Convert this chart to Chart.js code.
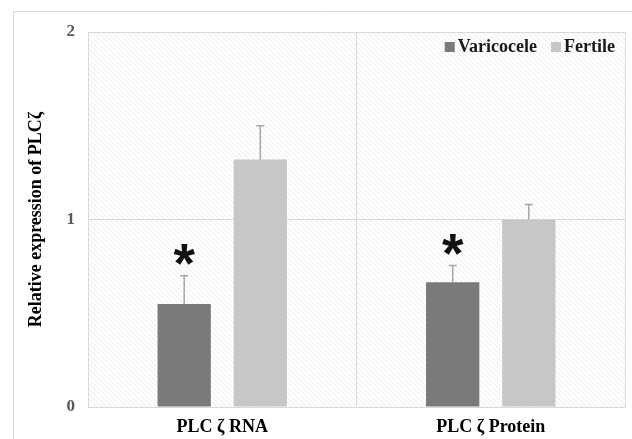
<!DOCTYPE html>
<html>
<head>
<meta charset="utf-8">
<script src="https://cdn.jsdelivr.net/npm/chart.js@4/dist/chart.umd.min.js"></script>
<style>
html,body{margin:0;padding:0;background:#fff;}
#wrap{width:632px;height:439px;position:relative;}
</style>
</head>
<body>
<div id="wrap"><canvas id="c" width="632" height="439"></canvas></div>
<script>
// ---- data ----
const categories = ["PLC ζ RNA", "PLC ζ Protein"];
const seriesNames = ["Varicocele", "Fertile"];
const varicoceleValues = [0.55, 0.665];
const fertileValues = [1.32, 1.0];
const varicoceleErrors = [0.15, 0.09];
const fertileErrors = [0.18, 0.08];
const varicoceleMarks = ["*", "*"];
const yTicks = [0, 1, 2];
const yTitle = "Relative expression of PLCζ";

const colors = ["#7a7a7a", "#c6c7c6"];
const serif = "'Liberation Serif','Times New Roman',serif";

function makePattern(ctx) {
  const p = document.createElement('canvas');
  p.width = 5; p.height = 5;
  const g = p.getContext('2d');
  g.fillStyle = '#ffffff';
  g.fillRect(0, 0, 5, 5);
  g.strokeStyle = '#ececec';
  g.lineWidth = 1;
  g.beginPath();
  g.moveTo(-1, -1); g.lineTo(6, 6);
  g.moveTo(-1, 4); g.lineTo(1, 6);
  g.moveTo(4, -1); g.lineTo(6, 1);
  g.stroke();
  return ctx.createPattern(p, 'repeat');
}

const decor = {
  id: 'decor',
  beforeDraw(chart) {
    const ctx = chart.ctx, a = chart.chartArea;
    ctx.save();
    ctx.fillStyle = '#fff';
    ctx.fillRect(0, 0, chart.width, chart.height);
    ctx.strokeStyle = '#d9d9d9';
    ctx.lineWidth = 1;
    ctx.beginPath();
    ctx.moveTo(13.5, chart.height);
    ctx.lineTo(13.5, 11.5);
    ctx.lineTo(chart.width, 11.5);
    ctx.stroke();
    ctx.fillStyle = makePattern(ctx);
    ctx.fillRect(a.left, a.top, a.right - a.left, a.bottom - a.top);
    ctx.restore();
  },
  afterDatasetsDraw(chart) {
    const ctx = chart.ctx, ys = chart.scales.y;
    const errs = [varicoceleErrors, fertileErrors];
    ctx.save();
    ctx.strokeStyle = '#a6a6a6';
    ctx.lineWidth = 1.5;
    chart.data.datasets.forEach((ds, i) => {
      const meta = chart.getDatasetMeta(i);
      meta.data.forEach((el, j) => {
        const top = ys.getPixelForValue(ds.data[j] + errs[i][j]);
        ctx.beginPath();
        ctx.moveTo(el.x, el.y);
        ctx.lineTo(el.x, top);
        ctx.moveTo(el.x - 4, top);
        ctx.lineTo(el.x + 4, top);
        ctx.stroke();
      });
    });
    // significance marks
    const meta0 = chart.getDatasetMeta(0);
    ctx.fillStyle = '#111';
    ctx.font = "bold 100px 'Liberation Sans', Arial, sans-serif";
    const m = ctx.measureText('*');
    const h100 = m.actualBoundingBoxAscent + m.actualBoundingBoxDescent;
    const size = 100 * 21 / h100;
    ctx.font = "bold " + size + "px 'Liberation Sans', Arial, sans-serif";
    const mm = ctx.measureText('*');
    ctx.textAlign = 'center';
    ctx.textBaseline = 'alphabetic';
    meta0.data.forEach((el, j) => {
      if (!varicoceleMarks[j]) return;
      const top = ys.getPixelForValue(varicoceleValues[j] + varicoceleErrors[j]);
      const cy = top - 21;
      const base = cy + (mm.actualBoundingBoxAscent - mm.actualBoundingBoxDescent) / 2;
      ctx.fillText(varicoceleMarks[j], el.x, base);
    });
    ctx.restore();
  },
  afterDraw(chart) {
    const ctx = chart.ctx, a = chart.chartArea;
    ctx.save();
    ctx.font = "bold 18px " + serif;
    ctx.textBaseline = 'alphabetic';
    ctx.textAlign = 'left';
    let xr = a.right - 10;
    const items = chart.data.datasets.map((d, i) => ({label: d.label, color: d.backgroundColor}));
    for (let i = items.length - 1; i >= 0; i--) {
      const w = ctx.measureText(items[i].label).width;
      const tx = xr - w;
      ctx.fillStyle = '#1a1a1a';
      ctx.fillText(items[i].label, tx, 52);
      ctx.fillStyle = items[i].color;
      ctx.fillRect(tx - 13, 42, 10, 10);
      xr = tx - 13 - 14;
    }
    ctx.restore();
  }
};

new Chart(document.getElementById('c'), {
  type: 'bar',
  data: {
    labels: categories,
    datasets: [
      {label: seriesNames[0], data: varicoceleValues, backgroundColor: colors[0]},
      {label: seriesNames[1], data: fertileValues, backgroundColor: colors[1]}
    ]
  },
  options: {
    responsive: false,
    animation: false,
    devicePixelRatio: 1,
    layout: {padding: {left: 20, right: 7, top: 32, bottom: 0}},
    plugins: {legend: {display: false}, tooltip: {enabled: false}},
    datasets: {bar: {barPercentage: 0.7, categoryPercentage: 0.567}},
    scales: {
      x: {
        grid: {offset: true, color: '#d9d9d9', drawTicks: false},
        border: {color: '#d9d9d9'},
        ticks: {font: {family: serif, size: 18, weight: 'bold'}, color: '#000', padding: 10},
        afterFit(s) { s.height = 32; }
      },
      y: {
        min: 0, max: 2,
        afterBuildTicks(s) { s.ticks = yTicks.map(v => ({value: v})); },
        grid: {color: '#d9d9d9', drawTicks: false},
        border: {color: '#d9d9d9'},
        ticks: {font: {family: serif, size: 17, weight: 'bold'}, color: '#595959', padding: 13},
        title: {display: true, text: yTitle, font: {family: serif, size: 18, weight: 'bold'}, color: '#000', padding: {top: 6, bottom: 0}},
        afterFit(s) { s.width = 68; }
      }
    }
  },
  plugins: [decor]
});
</script>
</body>
</html>
